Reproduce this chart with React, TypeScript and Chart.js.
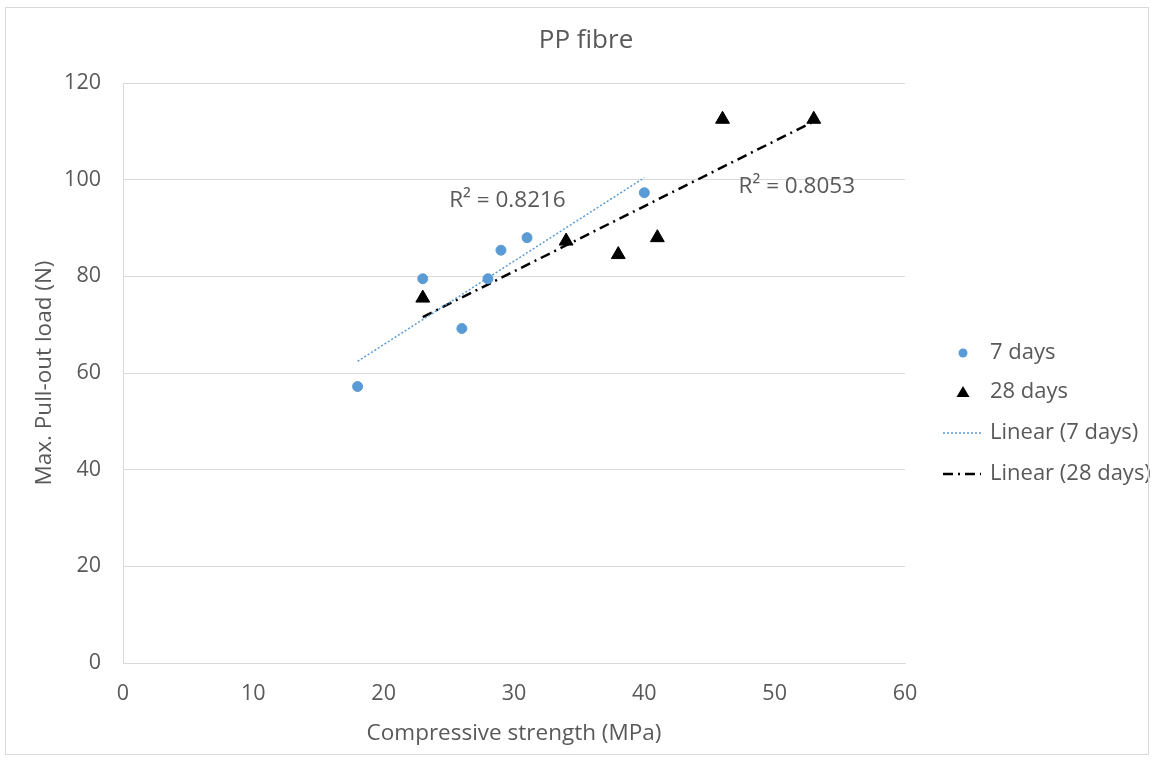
import React, { useEffect, useRef } from "react";
import { Chart, registerables } from "chart.js";

Chart.register(...registerables);

const strength7 = [18, 23, 26, 28, 29, 31, 40];
const load7 = [57.2, 79.5, 69.2, 79.5, 85.4, 88.0, 97.3];
const strength28 = [23, 34, 38, 41, 46, 53];
const load28 = [75.5, 87.3, 84.5, 88.0, 112.5, 112.5];
const seriesNames = ["7 days", "28 days", "Linear (7 days)", "Linear (28 days)"];
const r2Texts = ["R² = 0.8216", "R² = 0.8053"];
const chartTitle = "PP fibre";

const FONT = "'Open Sans', Lato, sans-serif";
const GREY = "#595959";
const BLUE = "#5B9BD5";

function linearFit(xs: number[], ys: number[]) {
  const n = xs.length;
  const mx = xs.reduce((a, b) => a + b, 0) / n;
  const my = ys.reduce((a, b) => a + b, 0) / n;
  let sxx = 0, sxy = 0;
  for (let i = 0; i < n; i++) {
    sxx += (xs[i] - mx) * (xs[i] - mx);
    sxy += (xs[i] - mx) * (ys[i] - my);
  }
  const slope = sxy / sxx;
  const intercept = my - slope * mx;
  const x0 = Math.min(...xs);
  const x1 = Math.max(...xs);
  return [
    { x: x0, y: intercept + slope * x0 },
    { x: x1, y: intercept + slope * x1 },
  ];
}

const titlePlugin = {
  id: "centeredTitle",
  afterDraw(chart: any) {
    const { ctx } = chart;
    ctx.save();
    ctx.font = `26px ${FONT}`;
    ctx.fillStyle = GREY;
    ctx.textAlign = "center";
    ctx.textBaseline = "middle";
    ctx.fillText(chartTitle, 586, 41);
    ctx.restore();
  },
};

const legendPlugin = {
  id: "customLegend",
  afterDraw(chart: any) {
    const ctx = chart.ctx;
    const ds = chart.data.datasets;
    const symX = 963;
    const textX = 990;
    const ys = [353, 392, 433, 474];
    ctx.save();
    ctx.font = `22px ${FONT}`;
    ctx.fillStyle = GREY;
    ctx.textBaseline = "middle";
    ds.forEach((d: any, i: number) => {
      const y = ys[i];
      ctx.save();
      if (i === 0) {
        ctx.fillStyle = BLUE;
        ctx.beginPath();
        ctx.arc(symX, y, 4.5, 0, Math.PI * 2);
        ctx.fill();
      } else if (i === 1) {
        ctx.fillStyle = "#000";
        ctx.beginPath();
        ctx.moveTo(symX, y - 6);
        ctx.lineTo(symX + 6.5, y + 5);
        ctx.lineTo(symX - 6.5, y + 5);
        ctx.closePath();
        ctx.fill();
      } else {
        ctx.strokeStyle = d.borderColor;
        ctx.lineWidth = d.borderWidth;
        ctx.setLineDash(d.borderDash);
        ctx.beginPath();
        ctx.moveTo(symX - 20, y);
        ctx.lineTo(symX + 18, y);
        ctx.stroke();
      }
      ctx.restore();
      ctx.fillText(d.label, textX, y);
    });
    ctx.restore();
  },
};

const r2Plugin = {
  id: "r2Labels",
  afterDatasetsDraw(chart: any) {
    const { ctx, scales } = chart;
    const anchors = [
      { x: 29.5, y: 95.6 },
      { x: 51.7, y: 98.5 },
    ];
    ctx.save();
    ctx.font = `22.5px ${FONT}`;
    ctx.fillStyle = GREY;
    ctx.textAlign = "center";
    ctx.textBaseline = "middle";
    r2Texts.forEach((t, i) => {
      ctx.fillText(t, scales.x.getPixelForValue(anchors[i].x), scales.y.getPixelForValue(anchors[i].y));
    });
    ctx.restore();
  },
};

export default function App() {
  const ref = useRef<HTMLCanvasElement>(null);
  useEffect(() => {
    document.body.style.margin = "0";
    const canvas = ref.current!;
    const chart = new Chart(canvas, {
      type: "scatter",
      data: {
        datasets: [
          {
            label: seriesNames[0],
            data: strength7.map((x, i) => ({ x, y: load7[i] })),
            backgroundColor: BLUE,
            borderColor: BLUE,
            pointRadius: 5,
            pointStyle: "circle",
            order: 1,
          },
          {
            label: seriesNames[1],
            data: strength28.map((x, i) => ({ x, y: load28[i] })),
            backgroundColor: "#000",
            borderColor: "#000",
            pointRadius: 8,
            pointStyle: "triangle",
            order: 0,
          },
          {
            label: seriesNames[2],
            data: linearFit(strength7, load7),
            showLine: true,
            pointRadius: 0,
            borderColor: BLUE,
            borderWidth: 1.5,
            borderDash: [2, 2],
            order: 2,
          },
          {
            label: seriesNames[3],
            data: linearFit(strength28, load28),
            showLine: true,
            pointRadius: 0,
            borderColor: "#000",
            borderWidth: 2.5,
            borderDash: [10, 5, 2, 5],
            order: 2,
          },
        ],
      },
      options: {
        responsive: false,
        animation: false,
        layout: { padding: { left: 0, right: 250, top: 83, bottom: 0 } },
        plugins: {
          legend: { display: false },
          tooltip: { enabled: false },
          title: { display: false },
        },
        scales: {
          x: {
            type: "linear",
            min: 0,
            max: 60,
            ticks: { stepSize: 10, color: GREY, font: { family: FONT, size: 21.5 }, padding: 18 },
            grid: { display: false, drawTicks: false },
            border: { display: true, color: "#d9d9d9", width: 1 },
            title: {
              display: true,
              text: "Compressive strength (MPa)",
              color: GREY,
              font: { family: FONT, size: 22.5 },
              padding: { top: 10, bottom: 15 },
            },
            afterFit: (s: any) => {
              s.height = 99;
            },
          },
          y: {
            type: "linear",
            min: 0,
            max: 120,
            ticks: { stepSize: 20, color: GREY, font: { family: FONT, size: 21.5 }, padding: 22 },
            grid: { color: "#d9d9d9", drawTicks: false },
            border: { display: true, color: "#d9d9d9", width: 1 },
            title: {
              display: true,
              text: "Max. Pull-out load (N)",
              color: GREY,
              font: { family: FONT, size: 22.5 },
              padding: { top: 31, bottom: 0 },
            },
            afterFit: (s: any) => {
              s.width = 123;
            },
          },
        },
      },
      plugins: [titlePlugin, legendPlugin, r2Plugin],
    });
    return () => chart.destroy();
  }, []);
  return (
    <div style={{ position: "relative", width: 1155, height: 762 }}>
      <div
        style={{
          position: "absolute",
          left: 5,
          top: 7,
          width: 1144,
          height: 748,
          border: "1px solid #d9d9d9",
          boxSizing: "border-box",
          pointerEvents: "none",
        }}
      />
      <canvas ref={ref} width={1155} height={762} style={{ display: "block" }} />
    </div>
  );
}
